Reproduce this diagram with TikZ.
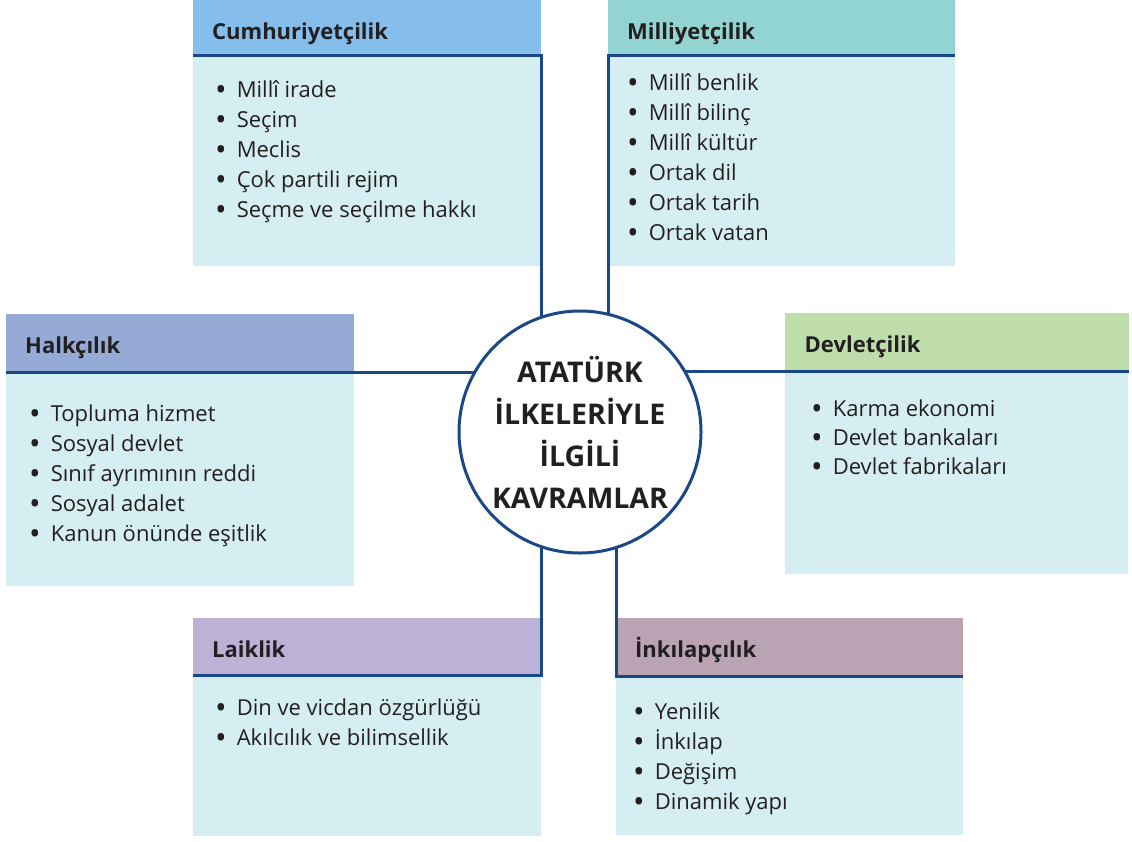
\documentclass[tikz,border=0pt]{standalone}
\usepackage{fontspec}
\setmainfont{Open Sans}
\usetikzlibrary{positioning, calc}

\definecolor{linecol}{HTML}{1A4886}
\definecolor{bodycol}{HTML}{D5EEF2}
\definecolor{txtcol}{HTML}{231F20}
\definecolor{cumcol}{HTML}{85BEEA}
\definecolor{milcol}{HTML}{91D4D1}
\definecolor{halkcol}{HTML}{95AAD5}
\definecolor{devcol}{HTML}{BFDDAA}
\definecolor{laikcol}{HTML}{BDB1D6}
\definecolor{inkcol}{HTML}{BAA3B3}

\newcommand{\blt}{\raisebox{-3pt}{\scalebox{1.4}{\textbullet}}\hspace{10pt}}

\tikzset{
  head/.style={anchor=north west, inner xsep=19, inner ysep=0, text height=39,
    text depth=#1, text width=300, align=left, text=txtcol,
    font=\bfseries\fontsize{22}{26}\selectfont},
  body/.style={anchor=north west, fill=bodycol, inner sep=0, minimum height=#1},
  item/.style={anchor=base west, inner sep=0, text=txtcol,
    font=\fontsize{22}{30}\selectfont},
  link/.style={draw=linecol, line width=3},
}

\begin{document}
\begin{tikzpicture}[x=1pt, y=-1pt]
  \useasboundingbox (0,0) rectangle (1132,841);

  % Header boxes
  \node[head=16, fill=cumcol, text width=310] (cumhead) at (193,0) {Cumhuriyetçilik};
  \node[head=16, fill=milcol, text width=309] (milhead) at (608,0) {Milliyetçilik};
  \node[head=19, fill=halkcol, text width=310] (halkhead) at (6,314) {Halkçılık};
  \node[head=19, fill=devcol, text width=305, inner xsep=19.5] (devhead) at (785,313) {Devletçilik};
  \node[head=18, fill=laikcol, text width=310] (laikhead) at (193,618) {Laiklik};
  \node[head=19, fill=inkcol, text width=309] (inkhead) at (616,618) {İnkılapçılık};

  % Body boxes
  \node[body=210, minimum width=348] (cumbody) at (cumhead.south west) {};
  \node[body=210, minimum width=347] (milbody) at (milhead.south west) {};
  \node[body=213, minimum width=348] (halkbody) at (halkhead.south west) {};
  \node[body=202, minimum width=343] (devbody) at (devhead.south west) {};
  \node[body=160, minimum width=348] (laikbody) at (laikhead.south west) {};
  \node[body=158, minimum width=347] (inkbody) at (inkhead.south west) {};

  % Items
  \foreach \t [count=\i from 0] in {Millî irade, Seçim, Meclis, Çok partili rejim, Seçme ve seçilme hakkı}
    \node[item] (cum\i) at ($(cumbody.north west)+(22,42+30*\i)$) {\blt\t};
  \foreach \t [count=\i from 0] in {Millî benlik, Millî bilinç, Millî kültür, Ortak dil, Ortak tarih, Ortak vatan}
    \node[item] (mil\i) at ($(milbody.north west)+(19,35+30*\i)$) {\blt\t};
  \foreach \t [count=\i from 0] in {Topluma hizmet, Sosyal devlet, Sınıf ayrımının reddi, Sosyal adalet, Kanun önünde eşitlik}
    \node[item] (halk\i) at ($(halkbody.north west)+(23,49+30*\i)$) {\blt\t};
  \foreach \t [count=\i from 0] in {Karma ekonomi, Devlet bankaları, Devlet fabrikaları}
    \node[item] (dev\i) at ($(devbody.north west)+(26,45+29*\i)$) {\blt\t};
  \foreach \t [count=\i from 0] in {Din ve vicdan özgürlüğü, Akılcılık ve bilimsellik}
    \node[item] (laik\i) at ($(laikbody.north west)+(22,40+30*\i)$) {\blt\t};
  \foreach \t [count=\i from 0] in {Yenilik, İnkılap, Değişim, Dinamik yapı}
    \node[item] (ink\i) at ($(inkbody.north west)+(17,43+30*\i)$) {\blt\t};

  % Connectors
  \coordinate (mid) at (580,432);
  \draw[link] (cumhead.south west) -- (cumhead.south east) -- (cumhead.south east |- mid);
  \draw[link] (milhead.south east) -- (milhead.south west) -- (milhead.south west |- mid);
  \draw[link] (halkhead.south west) -- (halkhead.south west -| mid);
  \draw[link] (devhead.south east) -- (devhead.south east -| mid);
  \draw[link] (laikhead.south west) -- (laikhead.south east) -- (laikhead.south east |- mid);
  \draw[link] (inkhead.south east) -- (inkhead.south west) -- (inkhead.south west |- mid);

  % Centre circle
  \node[circle, draw=linecol, line width=3, fill=white, minimum size=242, inner sep=0,
    align=center, text=txtcol, font=\bfseries\fontsize{28.5}{42}\selectfont] (kern) at (mid)
    {ATATÜRK\\İLKELERİYLE\\İLGİLİ\\KAVRAMLAR};
\end{tikzpicture}
\end{document}
